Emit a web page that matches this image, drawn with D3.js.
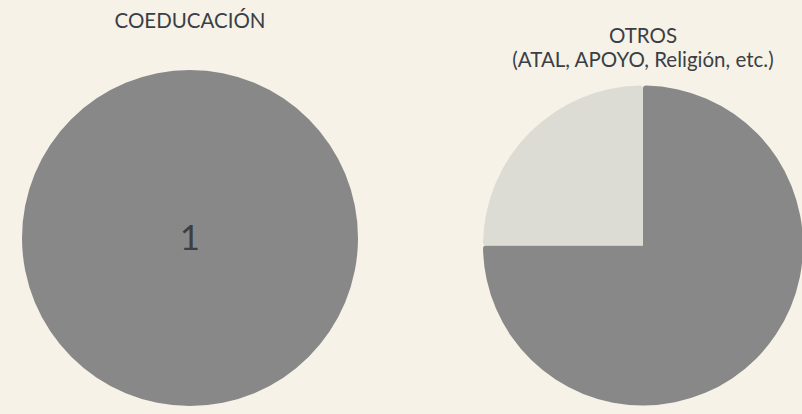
<!DOCTYPE html>
<html>
<head>
<meta charset="utf-8">
<script src="https://cdn.jsdelivr.net/npm/d3@7"></script>
<style>
  html, body { margin: 0; padding: 0; background: #f6f2e7; }
  svg { display: block; }
</style>
</head>
<body>
<svg id="drawing_region"></svg>
<script>
// datos
const titles = [["COEDUCACIÓN"], ["OTROS", "(ATAL, APOYO, Religión, etc.)"]];
const categories = ["A", "B"];
const coeduValues = [1, 0];
const otrosValues = [3, 1];
const showLabels = [true, false];

const colors = ['#888888', '#dcdcd4'];

const config = {
    width: 802,
    height: 414,
    font: 'Lato, sans-serif',
    pies: [
        {cx: 190, cy: 238, r: 168, titleY: 28},
        {cx: 643, cy: 245.5, r: 160, titleY: 42.5}
    ]
};

const svg = d3.select('#drawing_region')
    .attr('width', config.width)
    .attr('height', config.height);

const color = d3.scaleOrdinal().domain(categories).range(colors);

const pie = d3.pie()
    .value(d => d.value);

[coeduValues, otrosValues].forEach((values, k) => {
    const p = config.pies[k];
    const data = categories.map((c, i) => ({label: c, value: values[i]}))
        .filter(d => d.value > 0);

    const arc = d3.arc()
        .innerRadius(0)
        .outerRadius(p.r)
        .cornerRadius(3);

    const g = svg.append('g')
        .attr('transform', `translate(${p.cx}, ${p.cy})`);

    g.selectAll('path')
        .data(pie(data))
        .join('path')
        .attr('d', arc)
        .attr('fill', d => color(d.data.label));

    if (showLabels[k]) {
        g.selectAll('text.lbl')
            .data(pie(data))
            .join('text')
            .attr('class', 'lbl')
            .attr('transform', d => data.length == 1 ? 'translate(0,0)' : `translate(${arc.centroid(d)})`)
            .attr('text-anchor', 'middle')
            .attr('dy', '0.35em')
            .style('font-family', config.font)
            .style('font-size', '35px')
            .style('fill', '#3b3f45')
            .text(d => d.data.value);
    }

    // titulo
    svg.append('text')
        .attr('text-anchor', 'middle')
        .style('font-family', config.font)
        .style('font-size', '20.5px')
        .style('fill', '#3b3f45')
        .selectAll('tspan')
        .data(titles[k])
        .join('tspan')
        .attr('x', p.cx)
        .attr('y', (d, i) => p.titleY + i * 24)
        .text(d => d);
});
</script>
</body>
</html>
